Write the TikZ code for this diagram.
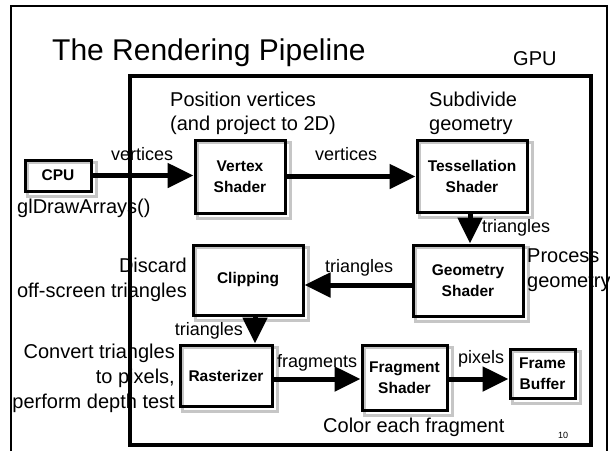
\documentclass[tikz,border=0pt]{standalone}
\usepackage{fontspec}
\setmainfont{Liberation Sans}
\usetikzlibrary{arrows.meta,backgrounds}
\tikzset{
  box/.style={draw=black, line width=3pt, inner sep=0pt, align=center,
    font=\fontsize{15.5}{21}\selectfont\bfseries},
  boxshadow/.style={draw=gray!45, line width=3pt},
  flow/.style={line width=5pt, -{Triangle[length=26pt,width=24pt]}},
  lbl/.style={inner sep=0pt, font=\fontsize{18}{21}\selectfont},
  note/.style={inner sep=0pt, font=\fontsize{20}{24}\selectfont},
  frameline/.style={line width=2.5pt},
}
\begin{document}
\begin{tikzpicture}[x=1pt, y=-1pt]
\useasboundingbox (0,0) rectangle (610,451);
% outer slide frame
\draw[frameline] (11,451) -- (11,6) -- (607,6) -- (607,451);
% GPU box
\node[draw, line width=3.5pt, minimum width=461pt, minimum height=369pt, inner sep=0pt] (gpubox) at (360.5,260.5) {};
% title
\node[inner sep=0pt, anchor=base west, font=\fontsize{30}{34}\selectfont] (title) at (52,60) {The Rendering Pipeline};
\node[note, anchor=base west] (gpu) at (513,65) {GPU};
% stage boxes
\node[box, minimum width=66pt, minimum height=31pt] (cpu) at (58,175.5) {CPU};
\node[box, minimum width=90pt, minimum height=73pt] (vertex) at (240,176.5) {Vertex\\Shader};
\node[box, minimum width=110pt, minimum height=72pt] (tess) at (472,176) {Tessellation\\Shader};
\node[box, minimum width=110pt, minimum height=71pt] (geom) at (468,280.5) {Geometry\\Shader};
\node[box, minimum width=110pt, minimum height=70pt] (clip) at (248,280) {Clipping};
\node[box, minimum width=92pt, minimum height=61pt] (rast) at (226,375.5) {Rasterizer};
\node[box, minimum width=85pt, minimum height=65pt] (frag) at (404.5,377.5) {Fragment\\Shader};
\node[box, minimum width=65pt, minimum height=49pt] (frame) at (542.5,373.5) {Frame\\Buffer};
% box shadows
\begin{scope}[on background layer]
\foreach \n in {cpu,vertex,tess,geom,clip,rast,frag,frame}
  \draw[boxshadow] ([shift={(4pt,-4pt)}]\n.north west) rectangle ([shift={(4pt,-4pt)}]\n.south east);
\end{scope}
% arrows
\draw[flow] (cpu.east) -- (cpu.east -| vertex.west);
\draw[flow] (vertex.east) -- (vertex.east -| tess.west);
\draw[flow] ([xshift=-2pt]tess.south) -- ([xshift=-2pt]tess.south |- geom.north);
\draw[flow] ([yshift=-4.5pt]geom.west) -- ([yshift=-4.5pt]geom.west -| clip.east);
\draw[flow] ([xshift=7pt]clip.south) -- ([xshift=7pt]clip.south |- rast.north);
\draw[flow] ([yshift=-3.5pt]rast.east) -- ([yshift=-3.5pt]rast.east -| frag.west);
\draw[flow] ([yshift=-1.5pt]frag.east) -- ([yshift=-1.5pt]frag.east -| frame.west);
% arrow labels
\node[lbl, anchor=base west] (l1) at (111,160) {vertices};
\node[lbl, anchor=base west] (l2) at (315,160) {vertices};
\node[lbl, anchor=base west] (l3) at (482,232) {triangles};
\node[lbl, anchor=base west] (l4) at (325,272) {triangles};
\node[lbl, anchor=base east] (l5) at (243,335) {triangles};
\node[lbl, anchor=base west] (l6) at (277,367) {fragments};
\node[lbl, anchor=base west] (l7) at (458,363) {pixels};
% annotations
\node[note, anchor=base west] (a1) at (170,106) {Position vertices};
\node[note, anchor=base west] (a2) at (170,130) {(and project to 2D)};
\node[note, anchor=base west] (a3) at (429,106) {Subdivide};
\node[note, anchor=base west] (a4) at (429,130) {geometry};
\node[note, anchor=base west] (a5) at (17,213) {glDrawArrays()};
\node[note, anchor=base east] (a6) at (187,272) {Discard};
\node[note, anchor=base east] (a7) at (187,297) {off-screen triangles};
\node[note, anchor=base west] (a8) at (527,262) {Process};
\node[note, anchor=base west] (a9) at (527,287) {geometry};
\node[note, anchor=base east] (a10) at (175,358) {Convert triangles};
\node[note, anchor=base east] (a11) at (175,383) {to pixels,};
\node[note, anchor=base east] (a12) at (175,408) {perform depth test};
\node[note, anchor=base west] (a13) at (323,432) {Color each fragment};
\node[inner sep=0pt, anchor=base west, font=\fontsize{9}{10}\selectfont] (pg) at (558,438) {10};
\end{tikzpicture}
\end{document}
